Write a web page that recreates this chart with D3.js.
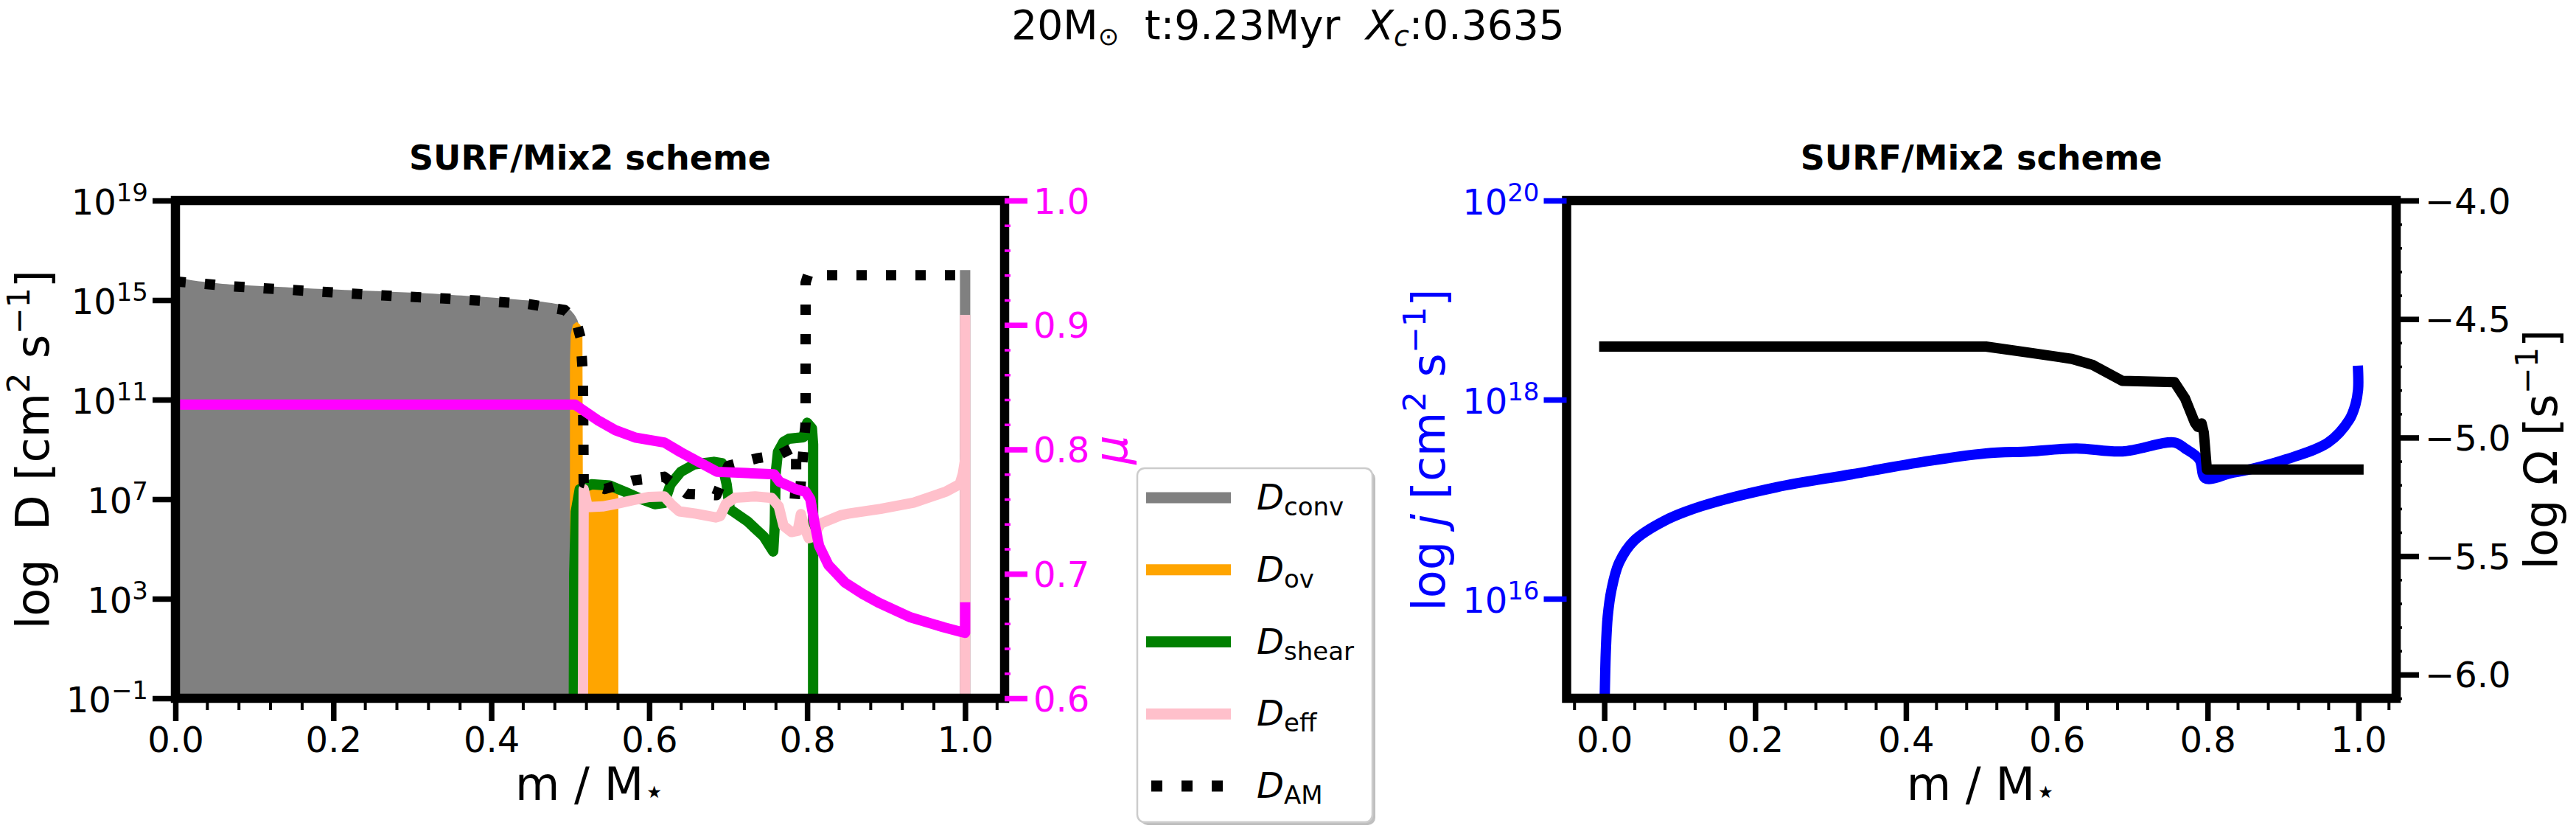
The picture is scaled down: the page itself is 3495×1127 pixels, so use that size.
<!DOCTYPE html>
<html>
<head>
<meta charset="utf-8">
<script src="https://cdn.jsdelivr.net/npm/d3@7"></script>
<style>
  body { margin: 0; background: #fff; }
  text { font-family: "DejaVu Sans", sans-serif; }
</style>
</head>
<body>
<svg id="chart"></svg>
<script>
// left panel: mixing coefficients, values are log10(D / cm^2 s^-1)
const massConv = [0, 0.02, 0.04, 0.074, 0.15, 0.255, 0.35, 0.445, 0.48, 0.493, 0.503, 0.509, 0.512]
const logDConv = [15.93, 15.8, 15.72, 15.62, 15.5, 15.36, 15.21, 14.99, 14.86, 14.76, 14.5, 14.2, 13.8]
const massConvSurf = [1.0, 1.0]
const logDConvSurf = [-1.5, 16.0]

const massOv = [0.501, 0.502, 0.5045, 0.508, 0.5115, 0.514, 0.5145, 0.518, 0.54, 0.555, 0.5595]
const logDOv = [12.5, 13.6, 13.98, 14.07, 13.98, 13.6, 7.6, 7.62, 7.6, 7.52, 7.45]

const massShear = [0.5045, 0.505, 0.507, 0.512, 0.527, 0.55, 0.569, 0.590, 0.607, 0.619, 0.627, 0.640, 0.657, 0.682, 0.692,
  0.698, 0.702, 0.724, 0.745, 0.757, 0.759, 0.760, 0.763, 0.770, 0.777, 0.795, 0.800, 0.806, 0.8075, 0.8075]
const logDShear = [-1.5, 4.0, 6.5, 7.4, 7.6, 7.55, 7.3, 7.0, 6.8, 6.85, 7.6, 8.1, 8.4, 8.5, 8.45,
  7.6, 6.6, 6.12, 5.5, 4.9, 6.0, 8.0, 8.9, 9.3, 9.43, 9.49, 10.07, 9.85, 9.2, -1.5]

const massEff = [0.516, 0.517, 0.522, 0.541, 0.558, 0.579, 0.600, 0.619, 0.629, 0.638, 0.659, 0.684, 0.690, 0.697, 0.709,
  0.734, 0.755, 0.764, 0.770, 0.780, 0.788, 0.792, 0.796, 0.802, 0.808, 0.817, 0.842, 0.852, 0.893, 0.935,
  0.976, 0.993, 0.997, 1.0, 1.0, 1.0]
const logDEff = [-1.5, 7.4, 6.68, 6.71, 6.81, 6.96, 7.09, 7.11, 6.76, 6.51, 6.42, 6.27, 6.32, 6.81, 7.06,
  7.11, 7.05, 6.71, 5.93, 5.68, 5.73, 6.4, 5.9, 5.43, 5.5, 6.02, 6.35, 6.42, 6.61, 6.86,
  7.31, 7.6, 8.0, 8.6, -1.5, 14.2]

const massAM = [0.0, 0.074, 0.255, 0.35, 0.445, 0.493, 0.507, 0.513, 0.516, 0.517, 0.544, 0.579, 0.619, 0.648, 0.685,
  0.700, 0.736, 0.765, 0.786, 0.786, 0.784, 0.790, 0.798, 0.798, 0.801, 1.0]
const logDAM = [15.75, 15.55, 15.2, 15.05, 14.85, 14.6, 14.2, 13.5, 12.0, 7.65, 7.41, 7.75, 7.9, 7.21, 7.16,
  8.34, 8.64, 8.79, 9.13, 7.9, 6.85, 6.9, 10.07, 15.7, 16.0, 16.0]

const massMu = [0, 0.506, 0.536, 0.557, 0.582, 0.619, 0.640, 0.686, 0.723, 0.758, 0.765, 0.786, 0.798, 0.804, 0.809,
  0.815, 0.827, 0.848, 0.870, 0.890, 0.931, 0.973, 0.994, 1.0, 1.0]
const mu = [0.836, 0.836, 0.823, 0.8155, 0.8096, 0.8056, 0.7977, 0.782, 0.781, 0.780, 0.774, 0.768, 0.766, 0.760, 0.742,
  0.7227, 0.707, 0.693, 0.684, 0.677, 0.665, 0.657, 0.6535, 0.6526, 0.673]

// right panel: specific angular momentum (log10 j) and angular velocity (log10 Omega)
const massJ = [0.0, 0.0005, 0.002, 0.0045, 0.0095, 0.0195, 0.039, 0.079, 0.129, 0.228, 0.328, 0.427, 0.506, 0.564,
  0.626, 0.687, 0.756, 0.770, 0.789, 0.797, 0.830, 0.862, 0.904, 0.960, 0.988, 0.996, 0.9995, 0.9995]
const logJ = [14.8, 15.0, 15.47, 15.82, 16.09, 16.36, 16.58, 16.78, 16.93, 17.12, 17.25, 17.38, 17.46, 17.48,
  17.51, 17.48, 17.57, 17.51, 17.40, 17.21, 17.26, 17.31, 17.40, 17.57, 17.80, 17.95, 18.1, 18.29]

const massOmega = [0.0, 0.506, 0.564, 0.620, 0.648, 0.687, 0.756, 0.770, 0.783, 0.787, 0.792, 0.795, 0.799, 1.0]
const logOmega = [-4.616, -4.616, -4.642, -4.668, -4.694, -4.761, -4.766, -4.834, -4.937, -4.955, -4.94, -4.98, -5.135, -5.135]

// ticks
const xTicks = [0, 0.2, 0.4, 0.6, 0.8, 1.0]
const dTickExps = [-1, 3, 7, 11, 15, 19]
const muTicks = [0.6, 0.7, 0.8, 0.9, 1.0]
const jTickExps = [16, 18, 20]
const omegaTicks = [-6.0, -5.5, -5.0, -4.5, -4.0]

const legendLabels = ['conv', 'ov', 'shear', 'eff', 'AM']
const legendColors = ['#808080', '#FFA500', '#008000', '#FFC0CB', '#000000']

const W = 3495
const H = 1127
const LW = 14
const SPINE = 12.5

const svg = d3.select('#chart').attr('width', W).attr('height', H)

const frameL = { left: 238, right: 1363, top: 272, bottom: 947 }
const frameR = { left: 2125.5, right: 3251, top: 272, bottom: 947 }

const xL = d3.scaleLinear().domain([0, 1.05]).range([frameL.left, frameL.right])
const yD = d3.scaleLog().domain([1e-1, 1e19]).range([frameL.bottom, frameL.top])
const yMu = d3.scaleLinear().domain([0.6, 1.0]).range([frameL.bottom, frameL.top])

const xR = d3.scaleLinear().domain([-0.05, 1.05]).range([frameR.left, frameR.right])
const yJ = d3.scaleLog().domain([1e15, 1e20]).range([frameR.bottom, frameR.top])
const yOm = d3.scaleLinear().domain([-6.1, -4.0]).range([frameR.bottom, frameR.top])

const defs = svg.append('defs')
function addClip(id, f) {
  defs.append('clipPath').attr('id', id)
    .append('rect')
    .attr('x', f.left).attr('y', f.top)
    .attr('width', f.right - f.left).attr('height', f.bottom - f.top)
}
addClip('clipL', frameL)
addClip('clipR', frameR)

const pow10 = (scale) => (v) => scale(Math.pow(10, v))
const yDexp = pow10(yD)
const yJexp = pow10(yJ)

const lineOf = (x, y, curve) => d3.line().x((d) => x(d[0])).y((d) => y(d[1])).curve(curve || d3.curveLinear)

function drawLine(g, pts, x, y, color, opts = {}) {
  const p = g.append('path')
    .datum(pts)
    .attr('d', lineOf(x, y, opts.curve))
    .attr('fill', 'none')
    .attr('stroke', color)
    .attr('stroke-width', LW)
    .attr('stroke-linejoin', 'round')
    .attr('stroke-linecap', opts.dash ? 'butt' : 'square')
  if (opts.dash) p.attr('stroke-dasharray', opts.dash)
  return p
}

const smooth = d3.curveCatmullRom.alpha(0.5)

// ---------- left panel ----------
const plotL = svg.append('g').attr('clip-path', 'url(#clipL)')

plotL.append('path')
  .datum(d3.zip(massConv, logDConv))
  .attr('d', d3.area().x((d) => xL(d[0])).y0(frameL.bottom).y1((d) => yDexp(d[1])).curve(smooth))
  .attr('fill', '#808080')
drawLine(plotL, d3.zip(massConvSurf, logDConvSurf), xL, yDexp, '#808080')

plotL.append('path')
  .datum(d3.zip(massOv, logDOv))
  .attr('d', d3.area().x((d) => xL(d[0])).y0(frameL.bottom).y1((d) => yDexp(d[1])))
  .attr('fill', '#FFA500')
  .attr('stroke', '#FFA500')
  .attr('stroke-width', 3)
  .attr('stroke-linejoin', 'round')

drawLine(plotL, d3.zip(massShear, logDShear), xL, yDexp, '#008000')
drawLine(plotL, d3.zip(massEff, logDEff), xL, yDexp, '#FFC0CB')
drawLine(plotL, d3.zip(massAM, logDAM), xL, yDexp, '#000000', { dash: '14 26' })
drawLine(plotL, d3.zip(massMu, mu), xL, yMu, '#FF00FF')

// ---------- right panel ----------
const plotR = svg.append('g').attr('clip-path', 'url(#clipR)')
drawLine(plotR, d3.zip(massJ, logJ), xR, yJexp, '#0000FF', { curve: smooth })
drawLine(plotR, d3.zip(massOmega, logOmega), xR, yOm, '#000000')

// ---------- spines ----------
function drawSpines(f) {
  svg.append('rect')
    .attr('x', f.left).attr('y', f.top)
    .attr('width', f.right - f.left).attr('height', f.bottom - f.top)
    .attr('fill', 'none')
    .attr('stroke', '#000')
    .attr('stroke-width', SPINE)
    .attr('stroke-linejoin', 'miter')
}
drawSpines(frameL)
drawSpines(frameR)

// ---------- axes ----------
function styleAxis(g, color, width) {
  g.attr('color', color).attr('font-family', 'DejaVu Sans').attr('font-size', 48)
  g.select('.domain').remove()
  g.selectAll('.tick line').attr('stroke-width', width)
}

function minorValues(lo, hi, step, majorStep) {
  const n = Math.round((hi - lo) / step)
  return d3.range(n + 1)
    .map((i) => +(lo + i * step).toFixed(4))
    .filter((v) => Math.abs(v / majorStep - Math.round(v / majorStep)) > 1e-6)
}

const fmt1 = d3.format('.1f')

function bottomAxis(x, f, minorLo, minorHi) {
  svg.append('g')
    .attr('transform', `translate(0,${f.bottom})`)
    .call(d3.axisBottom(x).tickValues(minorValues(minorLo, minorHi, 0.04, 0.2)).tickSize(16).tickFormat(''))
    .call((g) => styleAxis(g, '#000', 4))
  svg.append('g')
    .attr('transform', `translate(0,${f.bottom})`)
    .call(d3.axisBottom(x).tickValues(xTicks).tickSize(31).tickFormat(fmt1))
    .call((g) => styleAxis(g, '#000', 7.5))
    .call((g) => g.selectAll('.tick text').attr('y', 73).attr('dy', null))
}
bottomAxis(xL, frameL, 0, 1.04)
bottomAxis(xR, frameR, -0.04, 1.04)

function powerAxis(scale, f, exps, color) {
  svg.append('g')
    .attr('transform', `translate(${f.left},0)`)
    .call(d3.axisLeft(scale).tickValues(exps.map((e) => Math.pow(10, e))).tickSize(31).tickFormat(''))
    .call((g) => styleAxis(g, color, 7.5))
    .call((g) => {
      g.selectAll('.tick text').remove()
      g.selectAll('.tick').each(function (d) {
        const e = Math.round(Math.log10(d))
        const t = d3.select(this).append('text')
          .attr('x', -37).attr('y', 18)
          .attr('text-anchor', 'end')
          .attr('fill', color)
        t.append('tspan').text('10')
        t.append('tspan').attr('dy', -18).attr('font-size', 34).text(e < 0 ? '\u2212' + -e : String(e))
      })
    })
}
powerAxis(yD, frameL, dTickExps, '#000')
powerAxis(yJ, frameR, jTickExps, '#0000FF')

function rightAxis(scale, f, ticks, minors, color) {
  svg.append('g')
    .attr('transform', `translate(${f.right},0)`)
    .call(d3.axisRight(scale).tickValues(minors).tickSize(8).tickFormat(''))
    .call((g) => styleAxis(g, color, 3.5))
  svg.append('g')
    .attr('transform', `translate(${f.right},0)`)
    .call(d3.axisRight(scale).tickValues(ticks).tickSize(31).tickFormat(fmt1))
    .call((g) => styleAxis(g, color, 7.5))
    .call((g) => g.selectAll('.tick text').attr('x', 39).attr('y', 17).attr('dy', null))
}
rightAxis(yMu, frameL, muTicks, minorValues(0.6, 1.0, 0.02, 0.1), '#FF00FF')
rightAxis(yOm, frameR, omegaTicks, minorValues(-6.1, -4.0, 0.1, 0.5), '#000')

// ---------- labels ----------
function label(x, y, rotate, color, parts, size = 62) {
  const t = svg.append('text')
    .attr('transform', `translate(${x},${y})` + (rotate ? ' rotate(-90)' : ''))
    .attr('text-anchor', 'middle')
    .attr('fill', color)
    .attr('font-size', size)
  parts.forEach((p) => {
    const s = t.append('tspan').text(p.text)
    if (p.dy) s.attr('dy', p.dy)
    if (p.size) s.attr('font-size', p.size)
    if (p.italic) s.attr('font-style', 'italic')
    if (p.bold) s.attr('font-weight', 'bold')
  })
  return t
}

const unitsD = [
  { text: '[cm' }, { text: '2', dy: -26, size: 43 }, { text: '\u00a0s', dy: 26 },
  { text: '\u22121', dy: -26, size: 43 }, { text: ']', dy: 26 }
]
label(66, 609.5, true, '#000', [{ text: 'log\u00a0\u00a0D\u00a0' }].concat(unitsD))
label(1960, 610, true, '#0000FF', [{ text: 'log\u00a0' }, { text: 'j', italic: true }, { text: '\u00a0' }].concat(unitsD))
label(3469, 609.5, true, '#000', [
  { text: 'log\u00a0\u03a9\u00a0[s' }, { text: '\u22121', dy: -26, size: 43 }, { text: ']', dy: 26 }
])
label(1529, 610, true, '#FF00FF', [{ text: '\u03bc', italic: true }])

const xLabel = [{ text: 'm / M' }, { text: '\u22c6', dy: 4, size: 46 }]
label((frameL.left + frameL.right) / 2, 1085, false, '#000', xLabel)
label((frameR.left + frameR.right) / 2, 1085, false, '#000', xLabel)

label((frameL.left + frameL.right) / 2, 230, false, '#000', [{ text: 'SURF/Mix2 scheme', bold: true }], 46)
label((frameR.left + frameR.right) / 2, 230, false, '#000', [{ text: 'SURF/Mix2 scheme', bold: true }], 46)

label(W / 2, 53, false, '#000', [
  { text: '20M' }, { text: '\u2299', dy: 8, size: 34 },
  { text: '\u00a0\u00a0t:9.23Myr\u00a0\u00a0', dy: -8 },
  { text: 'X', italic: true }, { text: 'c', italic: true, dy: 9, size: 38 },
  { text: ':0.3635', dy: -9 }
], 55)

// ---------- legend ----------
const legend = svg.append('g')
const box = { x: 1543, y: 635, w: 319, h: 480 }
legend.append('rect')
  .attr('x', box.x + 4).attr('y', box.y + 4)
  .attr('width', box.w).attr('height', box.h)
  .attr('rx', 10)
  .attr('fill', '#808080').attr('opacity', 0.5)
legend.append('rect')
  .attr('x', box.x).attr('y', box.y)
  .attr('width', box.w).attr('height', box.h)
  .attr('rx', 10)
  .attr('fill', '#fff')
  .attr('stroke', '#cccccc')
  .attr('stroke-width', 2.5)

const rowY = d3.scalePoint().domain(legendLabels).range([675, 1066])
legendLabels.forEach((name, i) => {
  const y = rowY(name)
  const dotted = name === 'AM'
  legend.append('line')
    .attr('x1', dotted ? 1562 : 1555).attr('x2', 1670)
    .attr('y1', y).attr('y2', y)
    .attr('stroke', legendColors[i])
    .attr('stroke-width', 15)
    .attr('stroke-dasharray', dotted ? '15 26' : null)
  const t = legend.append('text')
    .attr('x', 1705).attr('y', y + 16)
    .attr('font-size', 48)
    .attr('fill', '#000')
  t.append('tspan').attr('font-style', 'italic').text('D')
  t.append('tspan').attr('dy', 8).attr('font-size', 34).text(name)
})
</script>
</body>
</html>
